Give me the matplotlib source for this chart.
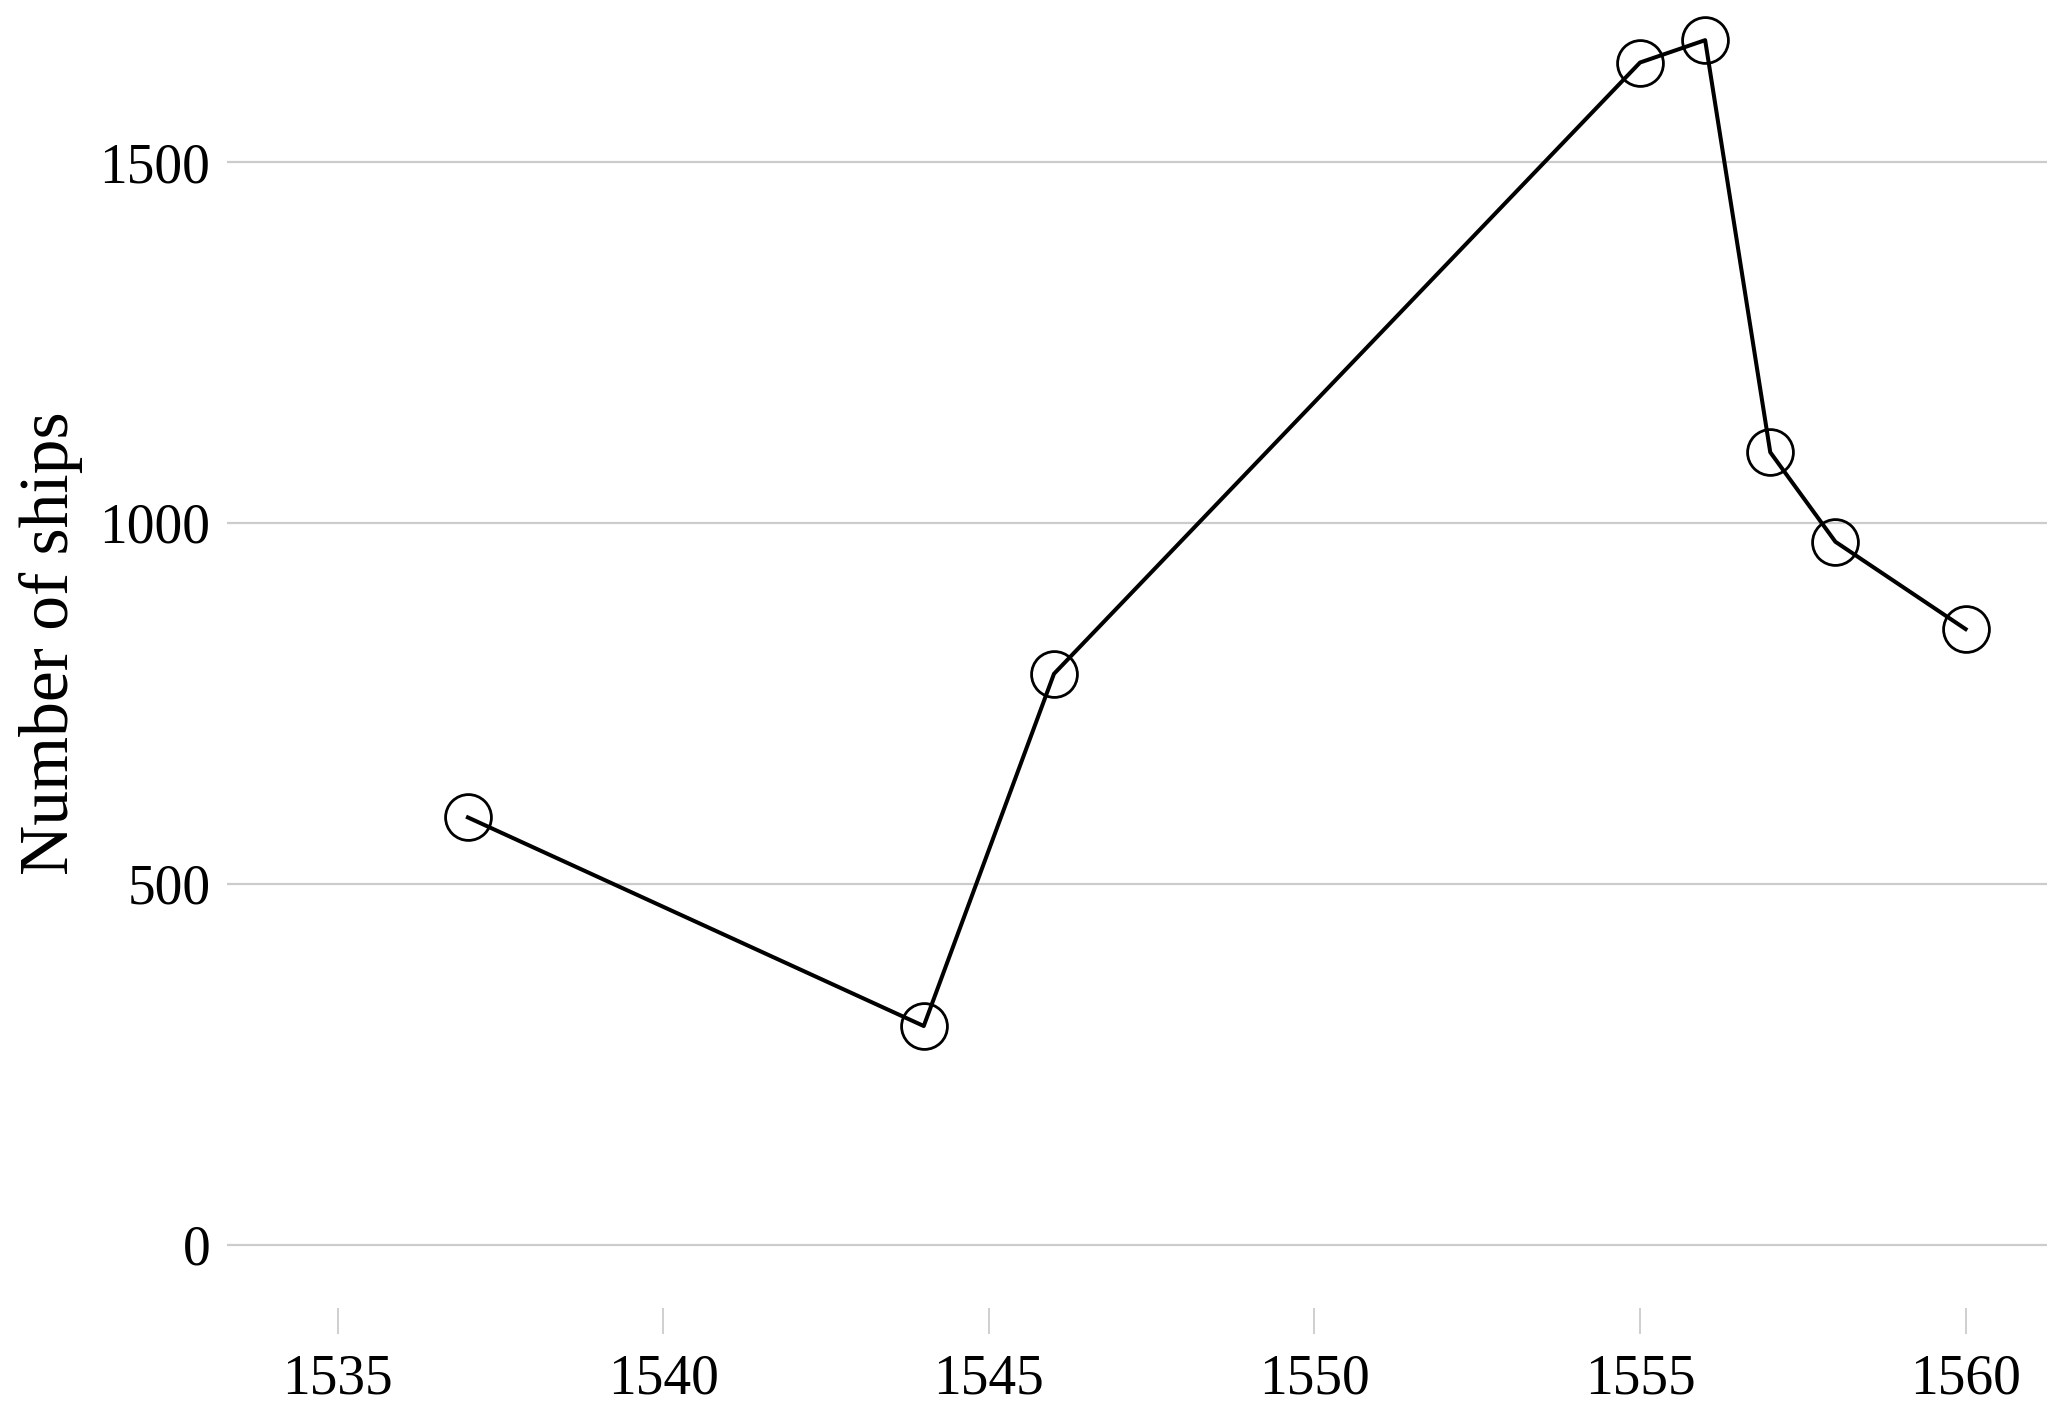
import matplotlib
matplotlib.use("Agg")
import matplotlib.pyplot as plt

# ships per year
years = [1537, 1544, 1546, 1555, 1556, 1557, 1558, 1560]
ships = [592, 303, 791, 1638, 1669, 1098, 974, 853]

x_ticks = [1535, 1540, 1545, 1550, 1555, 1560]
y_ticks = [0, 500, 1000, 1500]

plt.rcParams['font.family'] = ['Liberation Serif', 'DejaVu Serif']

fig = plt.figure(figsize=(20.67, 14.05), dpi=100)
ax = fig.add_axes([227 / 2067, 1 - 1308 / 1405, (2047 - 227) / 2067, (1308 - 12) / 1405])

ax.plot(years, ships, color='black', linewidth=2.9, marker='o', markersize=33,
        markerfacecolor='none', markeredgecolor='black', markeredgewidth=2.0,
        clip_on=False, zorder=3)

ax.set_xlim(1533.3, 1561.25)
ax.set_ylim(-87.7, 1708)
ax.set_xticks(x_ticks)
ax.set_yticks(y_ticks)
ax.yaxis.grid(True, color='#cccccc', linewidth=1.6)
ax.set_axisbelow(True)

for s in ax.spines.values():
    s.set_visible(False)

ax.tick_params(axis='x', length=19, width=1.3, color='#cccccc', pad=14, labelsize=40)
ax.tick_params(axis='y', length=0, pad=12, labelsize=40)
ax.set_ylabel('Number of ships', fontsize=50)
ax.yaxis.set_label_coords(-0.079, 0.513)

fig.savefig('out.png', dpi=100)
